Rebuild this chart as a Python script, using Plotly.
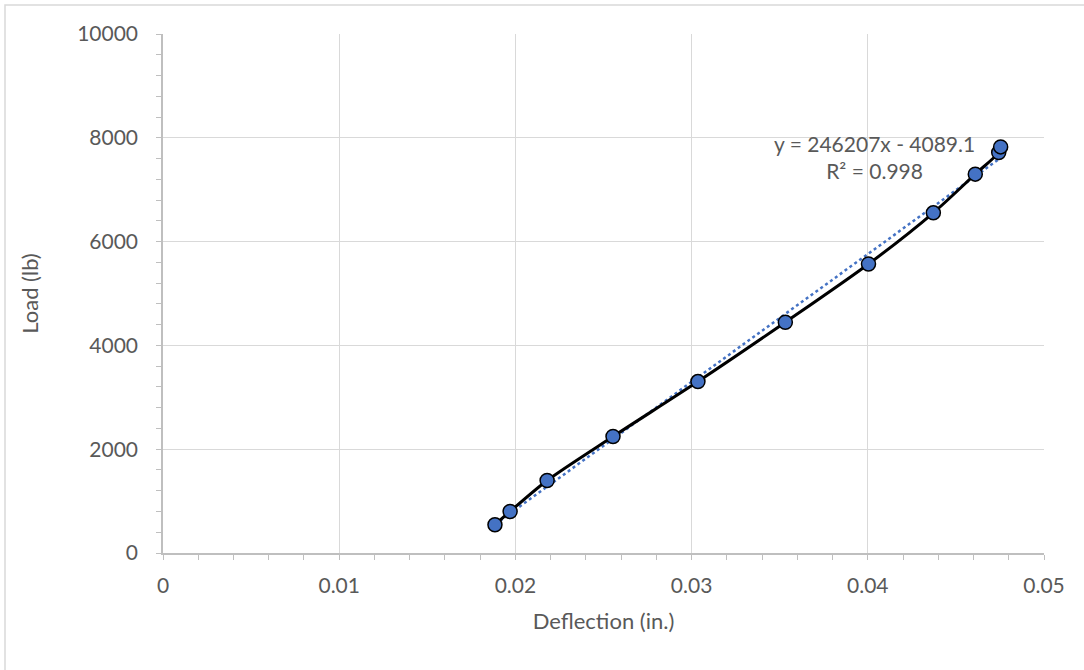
import plotly.graph_objects as go

# Measured load–deflection readings
deflection_in = [0.01884, 0.01970, 0.02180, 0.02554, 0.03036, 0.03532,
                 0.04004, 0.04372, 0.04610, 0.04743, 0.04754]
load_lb = [545, 800, 1397, 2244, 3303, 4446, 5568, 6555, 7300, 7717, 7825]

# Linear trendline coefficients shown in the equation label
slope = 246207
intercept = -4089.1
r_squared = 0.998

x_ticks = [0, 0.01, 0.02, 0.03, 0.04, 0.05]
x_tick_text = ["0", "0.01", "0.02", "0.03", "0.04", "0.05"]
y_ticks = [0, 2000, 4000, 6000, 8000, 10000]
y_tick_text = ["0", "2000", "4000", "6000", "8000", "10000"]

FONT = "Lato"
FSIZE = 21
TITLE_SIZE = 22
TEXT = "#595959"
GRID = "#d9d9d9"
AXIS = "#bfbfbf"
BLUE = "#4472C4"

fig = go.Figure()

x_lo, x_hi = min(deflection_in), max(deflection_in)
fig.add_trace(go.Scatter(
    x=[x_lo, x_hi],
    y=[slope * x_lo + intercept, slope * x_hi + intercept],
    mode="lines",
    line=dict(color=BLUE, width=2.5, dash="dot"),
    hoverinfo="skip",
    showlegend=False,
))

fig.add_trace(go.Scatter(
    x=deflection_in,
    y=load_lb,
    mode="lines+markers",
    line=dict(color="black", width=3, shape="spline", smoothing=0.8),
    marker=dict(size=14, color=BLUE, line=dict(color="black", width=1.5)),
    showlegend=False,
))

fig.add_annotation(
    x=0.0404, y=7630, xref="x", yref="y",
    text=f"y = {slope}x - {abs(intercept)}<br>R² = {r_squared}",
    showarrow=False, align="center",
    font=dict(family=FONT, size=FSIZE, color=TEXT),
)

axis_common = dict(
    showgrid=True, gridcolor=GRID, gridwidth=1.2,
    showline=True, linecolor=AXIS, linewidth=1.5,
    zeroline=False,
    ticks="outside", ticklen=5, tickcolor=AXIS, tickwidth=1,
    tickfont=dict(family=FONT, size=FSIZE, color=TEXT),
)

fig.update_xaxes(
    range=[0, 0.05], tickvals=x_ticks, ticktext=x_tick_text,
    minor=dict(dtick=0.002, ticks="outside", ticklen=5, tickcolor=AXIS, showgrid=False),
    ticklabelstandoff=8,
    title=dict(text="Deflection (in.)", font=dict(family=FONT, size=TITLE_SIZE, color=TEXT), standoff=18),
    **axis_common,
)
fig.update_yaxes(
    range=[0, 10000], tickvals=y_ticks, ticktext=y_tick_text,
    minor=dict(dtick=400, ticks="outside", ticklen=5, tickcolor=AXIS, showgrid=False),
    ticklabelstandoff=14,
    title=dict(text="Load (lb)", font=dict(family=FONT, size=TITLE_SIZE, color=TEXT), standoff=32),
    **axis_common,
)

# Outer chart frame
fig.add_shape(
    type="rect", xref="paper", yref="paper",
    x0=(5 - 163) / 881, x1=1.2, y0=-0.5, y1=(553 - 5) / 519,
    line=dict(color=GRID, width=1.5), fillcolor="rgba(0,0,0,0)", layer="below",
)

fig.update_layout(
    width=1084, height=670,
    margin=dict(l=163, r=40, t=34, b=117),
    plot_bgcolor="white", paper_bgcolor="white",
    font=dict(family=FONT, color=TEXT),
)

fig.write_html("out.html")
